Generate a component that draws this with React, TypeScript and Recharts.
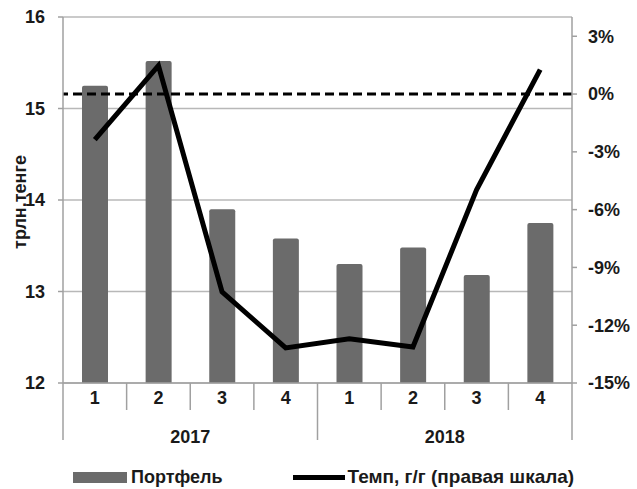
import React from 'react';
import { ComposedChart, Bar, Line, XAxis, YAxis, CartesianGrid, ReferenceLine, Legend } from 'recharts';

const categories = ['2017-1', '2017-2', '2017-3', '2017-4', '2018-1', '2018-2', '2018-3', '2018-4'];
const quarterLabels = ['1', '2', '3', '4', '1', '2', '3', '4'];
const yearLabels = ['2017', '2018'];
const portfolio = [15.25, 15.52, 13.9, 13.58, 13.3, 13.48, 13.18, 13.75];
const growth = [-2.36, 1.48, -10.27, -13.18, -12.71, -13.13, -4.97, 1.27];
const leftTicks = [12, 13, 14, 15, 16];
const rightTicks = [-15, -12, -9, -6, -3, 0, 3];

const data = categories.map((c, i) => ({ key: c, portfolio: portfolio[i], growth: growth[i] }));

const W = 637;
const H = 489;
const LEFT_W = 63;
const RIGHT_W = 65;
const BAND = (W - LEFT_W - RIGHT_W) / categories.length;
const FONT = '"Liberation Sans", Arial, sans-serif';
const TXT = '#1a1a1a';
const AXIS = '#a0a0a0';

function XTick(props: any) {
  const { x, y, payload } = props;
  const i = payload.index;
  const left = x - BAND / 2;
  const right = x + BAND / 2;
  const els: any[] = [];
  els.push(<line key="l" x1={left} x2={left} y1={y} y2={y + (i % 4 === 0 ? 57 : 27)} stroke={AXIS} strokeWidth={1.5} />);
  if (i === categories.length - 1) {
    els.push(<line key="r" x1={right} x2={right} y1={y} y2={y + 57} stroke={AXIS} strokeWidth={1.5} />);
  }
  els.push(
    <text key="q" x={x} y={y + 21} textAnchor="middle" fontFamily={FONT} fontSize={18} fontWeight="bold" fill={TXT}>
      {quarterLabels[i]}
    </text>
  );
  if (i % 4 === 1) {
    els.push(
      <text key="y" x={right} y={y + 60} textAnchor="middle" fontFamily={FONT} fontSize={18} fontWeight="bold" fill={TXT}>
        {yearLabels[Math.floor(i / 4)]}
      </text>
    );
  }
  return <g>{els}</g>;
}

function YLabel(props: any) {
  const { viewBox } = props;
  const cx = viewBox.x + 20;
  const cy = viewBox.y + viewBox.height / 2 + 2;
  return (
    <text x={cx} y={cy} transform={`rotate(-90, ${cx}, ${cy})`} textAnchor="middle" dominantBaseline="central" fontFamily={FONT} fontSize={18} fontWeight="bold" fill={TXT}>
      трлн.тенге
    </text>
  );
}

function LegendContent() {
  return (
    <div style={{ display: 'flex', alignItems: 'center', height: 44, boxSizing: 'border-box', paddingTop: 20, fontFamily: FONT, fontSize: 18, fontWeight: 'bold', color: TXT }}>
      <div style={{ width: 54, height: 11, background: '#6b6b6b', marginLeft: 73, marginRight: 4 }} />
      <span>Портфель</span>
      <div style={{ width: 52, height: 5, background: '#000', marginLeft: 70, marginRight: 3 }} />
      <span style={{ fontSize: 19 }}>Темп, г/г (правая шкала)</span>
    </div>
  );
}

export default function App() {
  return (
    <div style={{ position: 'absolute', left: 0, top: 0, width: W, height: H, background: '#fff' }}>
      <ComposedChart width={W} height={H} data={data} margin={{ top: 17, right: 0, bottom: 0, left: 0 }}>
        <CartesianGrid horizontal vertical={false} stroke="#b8b8b8" strokeWidth={1.5} yAxisId="left" />
        <XAxis
          dataKey="key"
          xAxisId={0}
          height={62}
          tick={<XTick />}
          tickLine={false}
          tickSize={0}
          tickMargin={0}
          interval={0}
          axisLine={{ stroke: AXIS, strokeWidth: 1.5 }}
        />
        <YAxis
          yAxisId="left"
          width={LEFT_W}
          domain={[12, 16]}
          ticks={leftTicks}
          interval={0}
          tickSize={5}
          tickMargin={13}
          axisLine={{ stroke: AXIS, strokeWidth: 1.5 }}
          tickLine={{ stroke: AXIS, strokeWidth: 1.5 }}
          tick={{ fontFamily: FONT, fontSize: 18, fontWeight: 'bold', fill: TXT }}
          label={<YLabel />}
        />
        <YAxis
          yAxisId="right"
          orientation="right"
          width={RIGHT_W}
          domain={[-15, 4]}
          ticks={rightTicks}
          interval={0}
          tickSize={5}
          tickMargin={11}
          tickFormatter={(v: number) => `${v}%`}
          axisLine={{ stroke: AXIS, strokeWidth: 1.5 }}
          tickLine={{ stroke: AXIS, strokeWidth: 1.5 }}
          tick={{ fontFamily: FONT, fontSize: 18, fontWeight: 'bold', fill: TXT, textAnchor: 'start' }}
        />
        <Bar yAxisId="left" dataKey="portfolio" name="Портфель" fill="#6b6b6b" barSize={26} radius={[2, 2, 0, 0]} isAnimationActive={false} />
        <ReferenceLine yAxisId="right" y={0} stroke="#000" strokeWidth={3} strokeDasharray="9 5" />
        <Line yAxisId="right" dataKey="growth" name="Темп, г/г (правая шкала)" stroke="#000" strokeWidth={5} dot={false} isAnimationActive={false} />
        <Legend verticalAlign="bottom" content={<LegendContent />} wrapperStyle={{ height: 44, width: W, left: 0 }} />
      </ComposedChart>
    </div>
  );
}
